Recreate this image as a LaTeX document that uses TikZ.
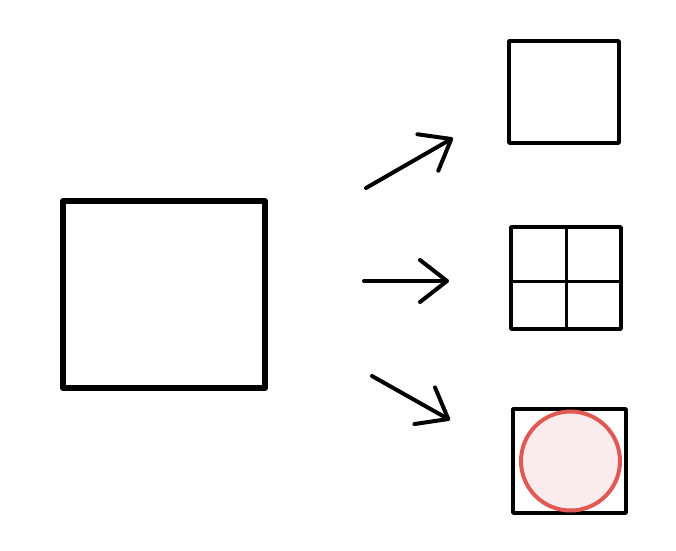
\documentclass[tikz,border=0pt]{standalone}
\usetikzlibrary{arrows.meta}
\definecolor{redline}{HTML}{E05A55}
\definecolor{pinkfill}{HTML}{FAEBEC}
\tikzset{
  box/.style={draw=black, line width=3.5pt, line join=round, line cap=round, inner sep=0pt, minimum width=#1, minimum height=#1},
  arr/.style={line width=4pt, line cap=round, line join=round, -{Straight Barb[length=27pt, width=42pt, line width=4pt, round]}},
  gridline/.style={line width=3pt, line cap=butt},
}
\begin{document}
\begin{tikzpicture}[x=1pt, y=-1pt]
\useasboundingbox (0,0) rectangle (676,550);
% big square
\node[draw=black, line width=6pt, line join=round, inner sep=0pt, minimum width=202pt, minimum height=187pt] (big) at (164,294.5) {};
% right squares
\node[box, minimum width=110pt, minimum height=102pt] (sq1) at (564,92) {};
\node[box, minimum width=110pt, minimum height=102pt] (sq2) at (566,278) {};
\coordinate (gl) at ([yshift=-3pt]sq2.west);
\coordinate (gr) at ([yshift=-3pt]sq2.east);
\draw[gridline] (sq2.north) -- (sq2.south);
\draw[gridline] (gl) -- (gr);
\node[box, minimum width=113pt, minimum height=104pt] (sq3) at (569.5,461) {};
\node[circle, draw=redline, fill=pinkfill, line width=4pt, minimum size=99pt, inner sep=0pt] (circ) at (570.5,461) {};
% arrows
\coordinate (a1s) at (366,188);
\coordinate (a1e) at (453,138);
\coordinate (a2s) at (364,281);
\coordinate (a2e) at (449,281);
\coordinate (a3s) at (372,376);
\coordinate (a3e) at (450,420);
\draw[arr] (a1s) -- (a1e);
\draw[arr] (a2s) -- (a2e);
\draw[arr] (a3s) -- (a3e);
\end{tikzpicture}
\end{document}
